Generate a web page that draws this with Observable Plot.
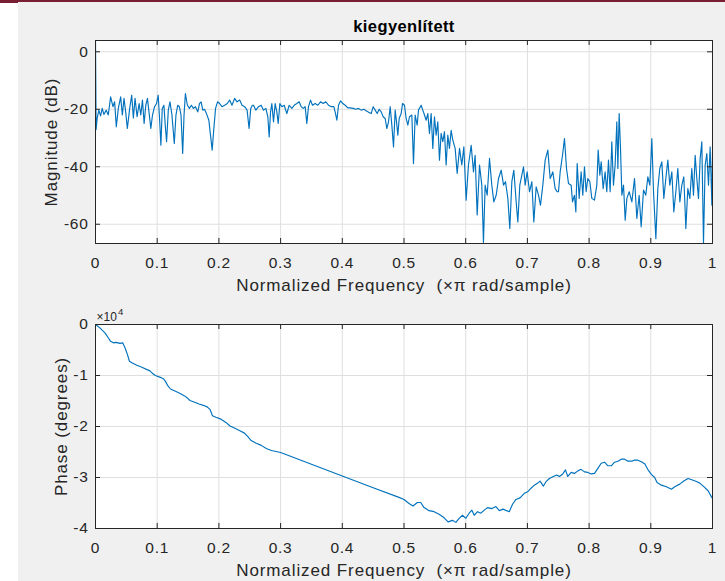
<!DOCTYPE html>
<html>
<head>
<meta charset="utf-8">
<script src="https://cdn.jsdelivr.net/npm/d3@7"></script>
<script src="https://cdn.jsdelivr.net/npm/@observablehq/plot@0.6"></script>
<style>
  html, body { margin: 0; padding: 0; background: #ffffff; }
  #wrap { position: relative; width: 725px; height: 581px; overflow: hidden; background: #ffffff; font-family: "Liberation Sans", Arial, sans-serif; }
  #panel { position: absolute; left: 18px; top: 0; right: 0; bottom: 0; background: #f0f0f0; }
  #bar { position: absolute; left: 0; top: 0; width: 725px; height: 2px; background: #7a1e33; }
  #barL { position: absolute; left: 0; top: 0; width: 18px; height: 3px; background: #7a1e33; }
  .pl { position: absolute; left: 0; }
  .pl svg g[aria-label="x-axis tick label"] text, .pl svg g[aria-label="y-axis tick label"] text { letter-spacing: 0.7px; }
  .pl svg .lbl text { letter-spacing: 0.9px; }
  .pl svg .ttl text { letter-spacing: 0.4px; }
</style>
</head>
<body>
<div id="wrap">
  <div id="panel"></div>
  <div id="bar"></div>
  <div id="barL"></div>
  <div id="p1" class="pl" style="top:0px"></div>
  <div id="p2" class="pl" style="top:300px"></div>
</div>
<script>
// ---------- data ----------
const titleText = "kiegyenlített";
const xLabelText = "Normalized Frequency\u00a0 (×π rad/sample)";
const magLabel = "Magnitude (dB)";
const phaseLabel = "Phase (degrees)";
const xTicks = [0, 0.1, 0.2, 0.3, 0.4, 0.5, 0.6, 0.7, 0.8, 0.9, 1];
const magTicks = [0, -20, -40, -60];
const phaseTicks = [0, -1, -2, -3, -4];   // ×10^4

// magnitude [normalized freq, dB]
const mag1 = [[0,3.9],[.001,-27],[.0027,-23.2],[.0054,-20.3],[.0082,-22.3],[.0109,-19.7],[.0136,-21.8],[.0174,-20.3],[.0207,-22.0],[.0245,-15.7],[.0283,-19.1],[.031,-17.4],[.0337,-26.1],[.037,-19.7],[.0408,-15.7],[.0435,-22.0],[.0462,-16.2],[.0489,-20.9],[.0516,-26.7],[.0554,-19.7],[.0587,-15.1],[.0614,-23.0],[.0641,-16.2],[.0674,-22.6],[.0707,-18.0],[.0734,-22.0],[.0761,-16.8],[.0788,-24.9],[.0815,-18.6],[.0842,-16.2],[.087,-21.5],[.0897,-26.7],[.0924,-22.0],[.0957,-19.1],[.0989,-18.0],[.1016,-15.1],[.1038,-23.2],[.106,-32.5],[.1082,-19.7],[.1109,-18.6],[.113,-25.5],[.1152,-31.3],[.118,-20.3],[.1207,-17.4],[.1239,-22.0],[.1277,-31.9],[.1304,-22.0],[.1332,-18.6],[.1359,-19.1],[.1386,-22.0],[.1413,-35.4],[.1435,-22.0],[.1457,-14.5],[.1489,-18.6],[.1522,-19.7],[.1554,-18.6],[.1587,-19.7],[.162,-19.1],[.1658,-20.9],[.1685,-18.0],[.1712,-17.4],[.1739,-20.3],[.1766,-20.0],[.1799,-21.5],[.1837,-23.8],[.1864,-29.0],[.1891,-34.2],[.1918,-26.7],[.1946,-19.7],[.1978,-17.4],[.2011,-18.0],[.2049,-19.1],[.2092,-18.6],[.2136,-18.0],[.2174,-16.8],[.2212,-18.6],[.2255,-16.2],[.2293,-17.4],[.2337,-16.8],[.2375,-18.6],[.2418,-19.1],[.2457,-20.3],[.2489,-26.7],[.2516,-19.7],[.2543,-18.6]];
const mag2 = [[.2561,-18.6],[.2599,-20.3],[.2642,-19.1],[.2685,-18.6],[.2723,-20.3],[.2761,-19.7],[.2793,-22.6],[.2815,-29.6],[.2837,-20.9],[.2858,-18.0],[.2885,-24.4],[.2912,-18.0],[.2939,-20.9],[.2961,-24.9],[.2988,-18.0],[.302,-19.1],[.3058,-18.6],[.3101,-21.5],[.3139,-18.6],[.3182,-19.7],[.322,-18.6],[.3263,-18.0],[.3301,-17.4],[.3334,-19.1],[.3366,-19.7],[.3398,-19.1],[.3425,-24.9],[.3452,-19.1],[.3485,-16.8],[.3517,-18.6],[.356,-18.0],[.3604,-18.6],[.3647,-17.4],[.369,-18.0],[.3733,-17.4],[.3777,-18.6],[.382,-19.1],[.3863,-19.1],[.389,-21.5],[.3912,-23.8],[.3939,-18.6],[.3971,-17.1],[.4009,-18.0],[.4047,-18.6],[.409,-19.5],[.4133,-19.5],[.4176,-19.7],[.422,-20.0],[.4263,-19.7],[.4306,-20.3],[.4349,-20.0],[.4392,-20.6],[.4436,-21.1],[.4468,-21.5],[.45,-19.1],[.4533,-20.3],[.4565,-21.5],[.4598,-20.0],[.463,-20.9],[.4663,-22.6],[.4695,-23.2],[.4722,-26.7],[.4749,-24.4],[.4776,-19.1],[.4803,-25.5],[.483,-33.1],[.4857,-20.3],[.4879,-24.4],[.49,-29.0],[.4922,-23.2],[.4954,-21.5],[.4976,-18.0]];
const mag3 = [[.5008,-18.6],[.5035,-23.2],[.5062,-25.5],[.5089,-22.6],[.5127,-22.0],[.5154,-38.9],[.5181,-22.0],[.5213,-25.5],[.5235,-20.3],[.5278,-18.6],[.5305,-20.3],[.5332,-22.0],[.5359,-23.8],[.5386,-21.5],[.5413,-28.4],[.544,-21.5],[.5467,-33.6],[.5494,-22.6],[.5521,-29.0],[.5548,-24.4],[.5575,-37.7],[.5602,-28.4],[.5629,-31.3],[.5656,-27.8],[.5683,-39.4],[.571,-29.0],[.5737,-33.6],[.5764,-27.3],[.5791,-30.7],[.5829,-33.6],[.5862,-42.3],[.59,-33.6],[.5937,-39.4],[.597,-33.1],[.6007,-51.6],[.6045,-39.4],[.6089,-32.5],[.6126,-41.8],[.6153,-36.0],[.6186,-56.8],[.6224,-39.4],[.6261,-46.4],[.6288,-66.4],[.6315,-46.4],[.6348,-49.9],[.6386,-37.1],[.6423,-46.4],[.6456,-52.2],[.6494,-49.9],[.6532,-44.1],[.6575,-41.2],[.6613,-46.4],[.6645,-45.2],[.6683,-51.0],[.6715,-61.5],[.6748,-45.2],[.678,-41.2],[.6818,-52.2],[.6845,-59.2],[.6877,-46.4],[.691,-42.9],[.6937,-40.0],[.6964,-46.4],[.6996,-41.8],[.7034,-48.7],[.7072,-45.2],[.7104,-59.2],[.7142,-47.0],[.718,-49.9],[.7212,-53.4],[.725,-46.4],[.7288,-37.7],[.7331,-34.2],[.7369,-44.1],[.7412,-41.8],[.745,-47.6],[.7482,-48.7]];
const mag4 = [[.7504,-48.7],[.7531,-41.8],[.7569,-36.0],[.7601,-30.2],[.7634,-40.6],[.7666,-45.8],[.7709,-46.4],[.7731,-52.2],[.7763,-49.9],[.7785,-55.7],[.7807,-38.9],[.7839,-51.0],[.7871,-41.8],[.7898,-49.9],[.7925,-40.0],[.7952,-48.7],[.7979,-44.1],[.8012,-45.2],[.8044,-51.0],[.8087,-51.6],[.8125,-46.4],[.8147,-34.2],[.8174,-42.9],[.8196,-38.3],[.8228,-47.6],[.826,-41.8],[.8287,-48.7],[.8314,-37.7],[.8341,-48.7],[.8368,-31.3],[.8395,-46.4],[.8422,-39.4],[.8449,-24.4],[.8466,-40.6],[.8487,-21.5],[.8509,-33.6],[.8531,-49.9],[.8558,-46.4],[.8585,-58.6],[.8612,-51.0],[.865,-48.7],[.8693,-52.2],[.8736,-44.1],[.8774,-58.0],[.8811,-49.9],[.8844,-60.9],[.8882,-48.1],[.8919,-49.9],[.8952,-43.5],[.8984,-46.4],[.9017,-30.2],[.9044,-48.7],[.9082,-65.0],[.9114,-47.6],[.9146,-40.6],[.9179,-38.3],[.9211,-51.0],[.9244,-44.1],[.9276,-37.7],[.9308,-46.4],[.9341,-41.8],[.9373,-55.7],[.9406,-48.7],[.9438,-40.6],[.9471,-52.2],[.9503,-46.4],[.9535,-43.5],[.9568,-61.5],[.96,-47.6],[.9633,-51.0],[.9665,-40.6],[.9692,-49.9],[.9719,-36.0],[.9746,-44.1],[.9773,-51.0],[.98,-37.1],[.9827,-31.3],[.9854,-66.4],[.9881,-39.4],[.9908,-35.4],[.9935,-46.4],[.9962,-33.1],[.999,-53.4],[1,-34.8]];

// phase [normalized freq, degrees ×10^4]
const phase1 = [[0,0],[.0071,-0.066],[.0153,-0.164],[.0207,-0.26],[.0245,-0.33],[.0289,-0.36],[.0332,-0.35],[.0398,-0.37],[.0441,-0.36],[.048,-0.46],[.0518,-0.59],[.055,-0.72],[.0589,-0.75],[.067,-0.80],[.0752,-0.84],[.0834,-0.885],[.0877,-0.905],[.0916,-0.95],[.097,-1.0],[.1052,-1.036],[.1106,-1.07],[.1134,-1.115],[.1172,-1.2],[.1215,-1.265],[.1297,-1.31],[.1379,-1.357],[.1444,-1.4],[.1488,-1.44],[.1531,-1.49],[.1597,-1.52],[.1678,-1.56],[.176,-1.59],[.1815,-1.62],[.1858,-1.67],[.1896,-1.79],[.1951,-1.82],[.2033,-1.856],[.2114,-1.92],[.218,-1.99],[.2251,-2.03],[.2332,-2.08],[.2414,-2.13],[.2469,-2.2],[.2523,-2.275],[.2605,-2.33],[.2687,-2.37],[.2768,-2.43],[.285,-2.47],[.3,-2.51],[.35,-2.74],[.4,-2.97],[.45,-3.2]];
const phase2 = [[.4919,-3.39],[.5,-3.43],[.5081,-3.51],[.5146,-3.56],[.5217,-3.49],[.5271,-3.49],[.5325,-3.59],[.5406,-3.65],[.5488,-3.67],[.5569,-3.72],[.565,-3.79],[.5715,-3.87],[.5785,-3.84],[.584,-3.88],[.5894,-3.80],[.5948,-3.74],[.6002,-3.80],[.6056,-3.70],[.61,-3.64],[.6138,-3.74],[.6192,-3.67],[.6246,-3.70],[.63,-3.64],[.6354,-3.59],[.6425,-3.61],[.649,-3.57],[.6544,-3.65],[.6609,-3.62],[.6663,-3.65],[.6706,-3.67],[.6761,-3.52],[.6815,-3.43],[.688,-3.40],[.695,-3.31],[.7004,-3.28],[.7059,-3.21],[.7113,-3.15],[.7167,-3.11],[.7205,-3.07],[.7259,-3.17],[.7302,-3.08],[.7356,-3.02],[.7421,-2.98],[.7476,-2.95],[.7519,-2.98],[.7573,-2.93],[.7617,-2.85],[.7654,-2.98],[.7709,-2.90],[.7763,-2.92],[.7817,-2.87],[.7871,-2.84],[.7925,-2.89],[.798,-2.90],[.8034,-2.93],[.8088,-2.92],[.8142,-2.82],[.8196,-2.72],[.8251,-2.70],[.8305,-2.77],[.8359,-2.77],[.8413,-2.70],[.8467,-2.68],[.8521,-2.64],[.8575,-2.64],[.863,-2.68],[.8684,-2.68],[.8738,-2.66],[.8792,-2.66],[.8846,-2.69],[.8901,-2.73],[.8955,-2.85],[.9009,-2.94],[.9063,-3.00],[.9101,-3.10],[.9171,-3.15],[.9252,-3.18],[.9334,-3.23],[.9388,-3.18],[.9469,-3.13],[.9534,-3.07],[.9604,-3.02],[.9675,-3.05],[.974,-3.08],[.9794,-3.11],[.9859,-3.18],[.9929,-3.26],[.9983,-3.38],[1,-3.41]];

// ---------- drawing ----------
const lineColor = "#0072BD";
const axColor = "#262626";
const gridColor = "#dfdfdf";
const fmt = d => String(d);
const W = 725, ML = 95, MR = 13;
const fw = W - ML - MR;
const tickFont = 15.5, labelFont = 17;

function makePanel(opts) {
  const {data, yDomain, yTicks, yFormat, height, mt, mb, yLabel, yLabelDx, extra} = opts;
  const fh = height - mt - mb;
  return Plot.plot({
    width: W, height,
    marginLeft: ML, marginRight: MR, marginTop: mt, marginBottom: mb,
    style: {background: "transparent", fontFamily: "'Liberation Sans', Arial, sans-serif", fontSize: tickFont + "px", color: axColor, overflow: "visible"},
    x: {domain: [0, 1], label: null},
    y: {domain: yDomain, label: null},
    marks: [
      Plot.frame({fill: "white", stroke: null}),
      Plot.gridX(xTicks, {stroke: gridColor, strokeOpacity: 1}),
      Plot.gridY(yTicks, {stroke: gridColor, strokeOpacity: 1}),
      Plot.line(data, {x: d => d[0], y: d => d[1], stroke: lineColor, strokeWidth: 1.15, clip: true}),
      Plot.frame({stroke: axColor, strokeWidth: 1}),
      Plot.ruleX(xTicks, {x: d => d, insetTop: fh - 5, stroke: axColor}),
      Plot.ruleX(xTicks, {x: d => d, insetBottom: fh - 5, stroke: axColor}),
      Plot.ruleY(yTicks, {y: d => d, insetRight: fw - 5, stroke: axColor}),
      Plot.ruleY(yTicks, {y: d => d, insetLeft: fw - 5, stroke: axColor}),
      Plot.axisX(xTicks, {anchor: "bottom", tickSize: 0, tickPadding: 13, tickFormat: fmt, label: null, fontSize: tickFont}),
      Plot.axisY(yTicks, {anchor: "left", tickSize: 0, tickPadding: 7, tickFormat: yFormat, label: null, fontSize: tickFont}),
      Plot.text([xLabelText], {text: d => d, frameAnchor: "bottom", textAnchor: "middle", dy: 47.5, lineAnchor: "bottom", fontSize: labelFont, fill: axColor, className: "lbl"}),
      Plot.text([yLabel], {text: d => d, frameAnchor: "left", textAnchor: "middle", lineAnchor: "middle", dx: yLabelDx, rotate: -90, fontSize: labelFont, fill: axColor, className: "lbl"}),
      ...extra
    ]
  });
}

const magData = [...mag1, ...mag2, ...mag3, ...mag4];
const phaseData = [...phase1, ...phase2].map(d => [d[0], d[1] * 1e4]);
const phaseTickVals = phaseTicks.map(t => t * 1e4);

const p1 = makePanel({
  data: magData, yDomain: [-66.7, 3.93], yTicks: magTicks, yFormat: fmt,
  height: 300, mt: 40, mb: 57, yLabel: magLabel, yLabelDx: -44,
  extra: [
    Plot.text([titleText], {text: d => d, frameAnchor: "top", textAnchor: "middle", dy: -9, lineAnchor: "bottom", fontSize: 16.5, fontWeight: "bold", fill: "#000000", className: "ttl"})
  ]
});

const p2 = makePanel({
  data: phaseData, yDomain: [-40000, 0], yTicks: phaseTickVals, yFormat: d => String(d / 1e4),
  height: 281, mt: 24, mb: 53, yLabel: phaseLabel, yLabelDx: -33.5,
  extra: [
    Plot.text(["×10"], {text: d => d, frameAnchor: "top-left", textAnchor: "start", dx: 1, dy: -4, lineAnchor: "bottom", fontSize: 12, fill: axColor}),
    Plot.text(["4"], {text: d => d, frameAnchor: "top-left", textAnchor: "start", dx: 22.5, dy: -9.5, lineAnchor: "bottom", fontSize: 9.5, fill: axColor})
  ]
});

document.getElementById("p1").appendChild(p1);
document.getElementById("p2").appendChild(p2);
</script>
</body>
</html>
